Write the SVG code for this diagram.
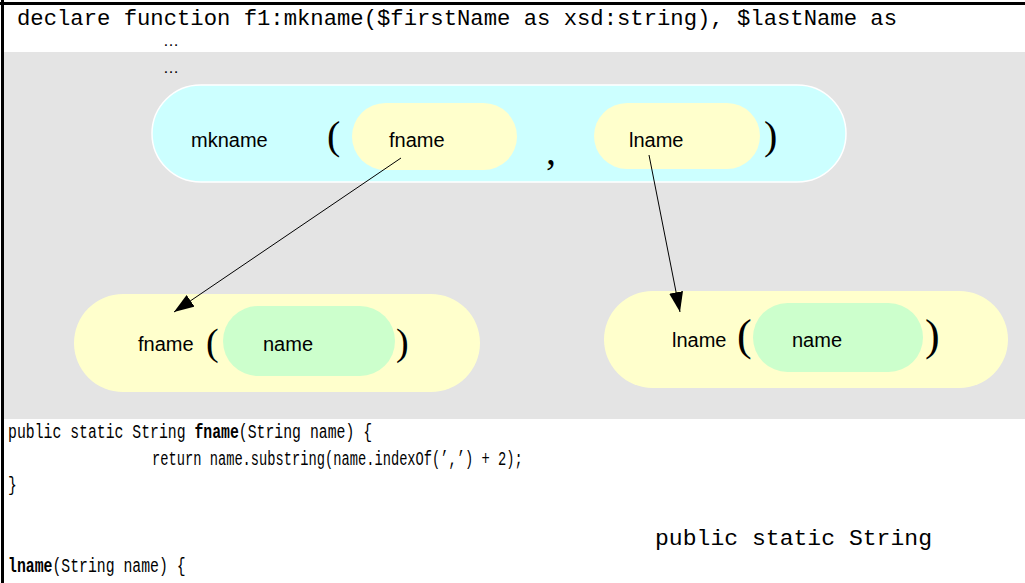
<svg xmlns="http://www.w3.org/2000/svg" width="1025" height="583" viewBox="0 0 1025 583">
<defs>
<style>
.code{font-family:"Liberation Mono","Courier New",monospace;fill:#000}
.j{font-size:21px}
.b{font-weight:bold}
.lbl{font-family:"Liberation Sans",Arial,sans-serif;font-size:20px;fill:#000}
.par{font-family:"Liberation Serif","Times New Roman",serif;fill:#000}
.blue{fill:#ccffff;stroke:#ffffff;stroke-width:1.5}
.yel{fill:#ffffcc}
.grn{fill:#ccffcc}
.conn{stroke:#000;stroke-width:1;fill:none}
</style>
<marker id="ah" markerUnits="userSpaceOnUse" markerWidth="22" markerHeight="14" refX="20" refY="7" orient="auto">
<path d="M0,0 L20,7 L0,14 z" fill="#000"/>
</marker>
</defs>
<rect x="0" y="0" width="1025" height="583" fill="#ffffff"/>
<rect x="4" y="52" width="1021" height="367" fill="#e4e4e4"/>
<line x1="0" y1="3.5" x2="1025" y2="3.5" stroke="#000" stroke-width="3"/>
<line x1="2.5" y1="0" x2="2.5" y2="583" stroke="#000" stroke-width="3"/>
<g id="header-code">
<text class="code" x="17" y="25" font-size="22" textLength="880" lengthAdjust="spacingAndGlyphs">declare function f1:mkname($firstName as xsd:string), $lastName as</text>
<text x="163" y="46" font-family="Liberation Sans,Arial,sans-serif" font-size="16">…</text>
<text x="163" y="73" font-family="Liberation Sans,Arial,sans-serif" font-size="16">…</text>
</g>
<g id="node-mkname">
<rect class="blue" x="152" y="85" width="694" height="97" rx="48.5" ry="48.5"/>
<text class="lbl" x="191" y="147">mkname</text>
<text class="par" x="327" y="149" font-size="40">(</text>
<text class="par" x="546" y="164" font-size="40">,</text>
<text class="par" x="764" y="149" font-size="40">)</text>
</g>
<g id="node-fname-arg">
<rect class="yel" x="352" y="103" width="165" height="67" rx="33.5" ry="33.5"/>
<text class="lbl" x="389" y="147">fname</text>
</g>
<g id="node-lname-arg">
<rect class="yel" x="594" y="103" width="166" height="66" rx="33" ry="33"/>
<text class="lbl" x="629" y="147">lname</text>
</g>
<g id="node-fname">
<rect class="yel" x="74" y="294" width="406" height="98" rx="49" ry="49"/>
<text class="lbl" x="138" y="351">fname</text>
<text class="par" x="206" y="355" font-size="38">(</text>
<rect class="grn" x="223" y="306" width="172" height="70" rx="35" ry="35"/>
<text class="lbl" x="263" y="351">name</text>
<text class="par" x="396" y="355" font-size="38">)</text>
</g>
<g id="node-lname">
<rect class="yel" x="604" y="291" width="404" height="97" rx="48.5" ry="48.5"/>
<text class="lbl" x="672" y="347">lname</text>
<text class="par" x="737" y="350" font-size="44">(</text>
<rect class="grn" x="753" y="303" width="170" height="69" rx="34.5" ry="34.5"/>
<text class="lbl" x="792" y="347">name</text>
<text class="par" x="925" y="350" font-size="44">)</text>
</g>
<g id="connectors">
<line class="conn" x1="401" y1="158" x2="174" y2="312" marker-end="url(#ah)"/>
<line class="conn" x1="649" y1="155" x2="680" y2="312" marker-end="url(#ah)"/>
</g>
<g id="java-code">
<text class="code j" transform="translate(8,438) scale(0.705,1)" x="0" y="0">public static String <tspan class="b">fname</tspan>(String name) {</text>
<text class="code j" transform="translate(152,465) scale(0.654,1)" x="0" y="0">return name.substring(name.indexOf(’,’) + 2);</text>
<text class="code j" transform="translate(8,491) scale(0.705,1)" x="0" y="0">}</text>
<text class="code" x="655" y="545" font-size="22" textLength="277" lengthAdjust="spacingAndGlyphs">public static String</text>
<text class="code j" transform="translate(8,572) scale(0.705,1)" x="0" y="0"><tspan class="b">lname</tspan>(String name) {</text>
</g>
</svg>
